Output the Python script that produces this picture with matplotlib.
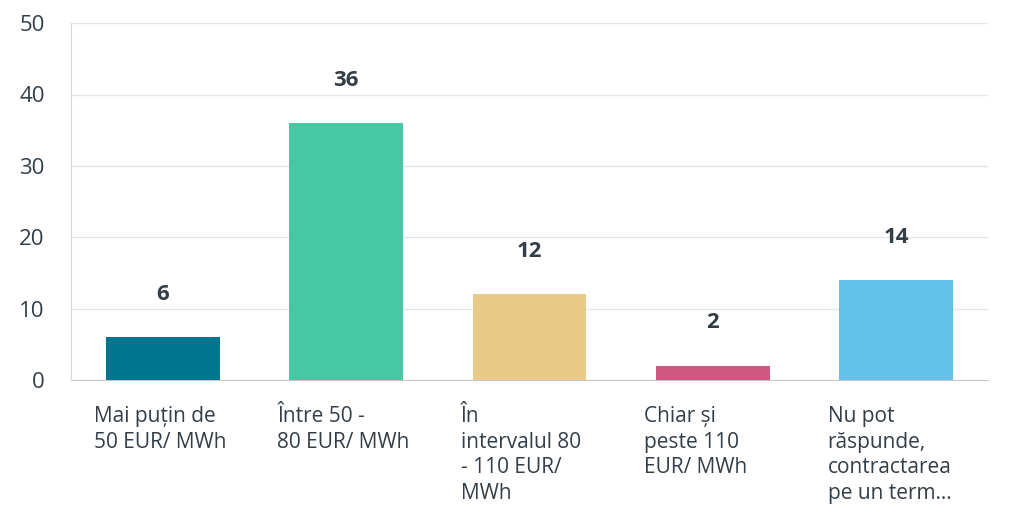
import matplotlib.pyplot as plt

# data
categories = [
    "Mai puțin de\n50 EUR/ MWh",
    "Între 50 -\n80 EUR/ MWh",
    "În\nintervalul 80\n- 110 EUR/\nMWh",
    "Chiar și\npeste 110\nEUR/ MWh",
    "Nu pot\nrăspunde,\ncontractarea\npe un term...",
]
values = [6, 36, 12, 2, 14]
colors = ["#007590", "#46C8A5", "#E9CA86", "#D0577F", "#64C1E9"]
yticks = [0, 10, 20, 30, 40, 50]

plt.rcParams["font.family"] = ["Open Sans", "DejaVu Sans"]

fig = plt.figure(figsize=(10.09, 5.25), dpi=100)
ax = fig.add_axes([0.0704, 0.276, 0.9086, 0.68])

x = range(len(values))
ax.bar(x, values, width=0.62, color=colors, zorder=3)

for i, v in enumerate(values):
    ax.annotate(str(v), (i, v), xytext=(0, 31), textcoords="offset points",
                ha="center", va="center", fontsize=16, fontweight="bold",
                color="#333e48")

ax.set_xlim(-0.5, len(values) - 0.5)
ax.set_ylim(0, 50)
ax.set_yticks(yticks)
ax.set_yticklabels([str(t) for t in yticks], fontsize=16, color="#333e48")
ax.tick_params(axis="y", length=0, pad=19)
ax.grid(axis="y", color="#e6e6e6", linewidth=1, zorder=0)

ax.set_xticks([])
for i, lab in enumerate(categories):
    ax.text(i - 0.374, -3.6, lab, ha="left", va="top", fontsize=15,
            color="#333e48", linespacing=1.3)

for s in ["top", "right"]:
    ax.spines[s].set_visible(False)
ax.spines["left"].set_color("#d9d9d9")
ax.spines["bottom"].set_color("#c8c8c8")

fig.savefig("out.png", dpi=100)
